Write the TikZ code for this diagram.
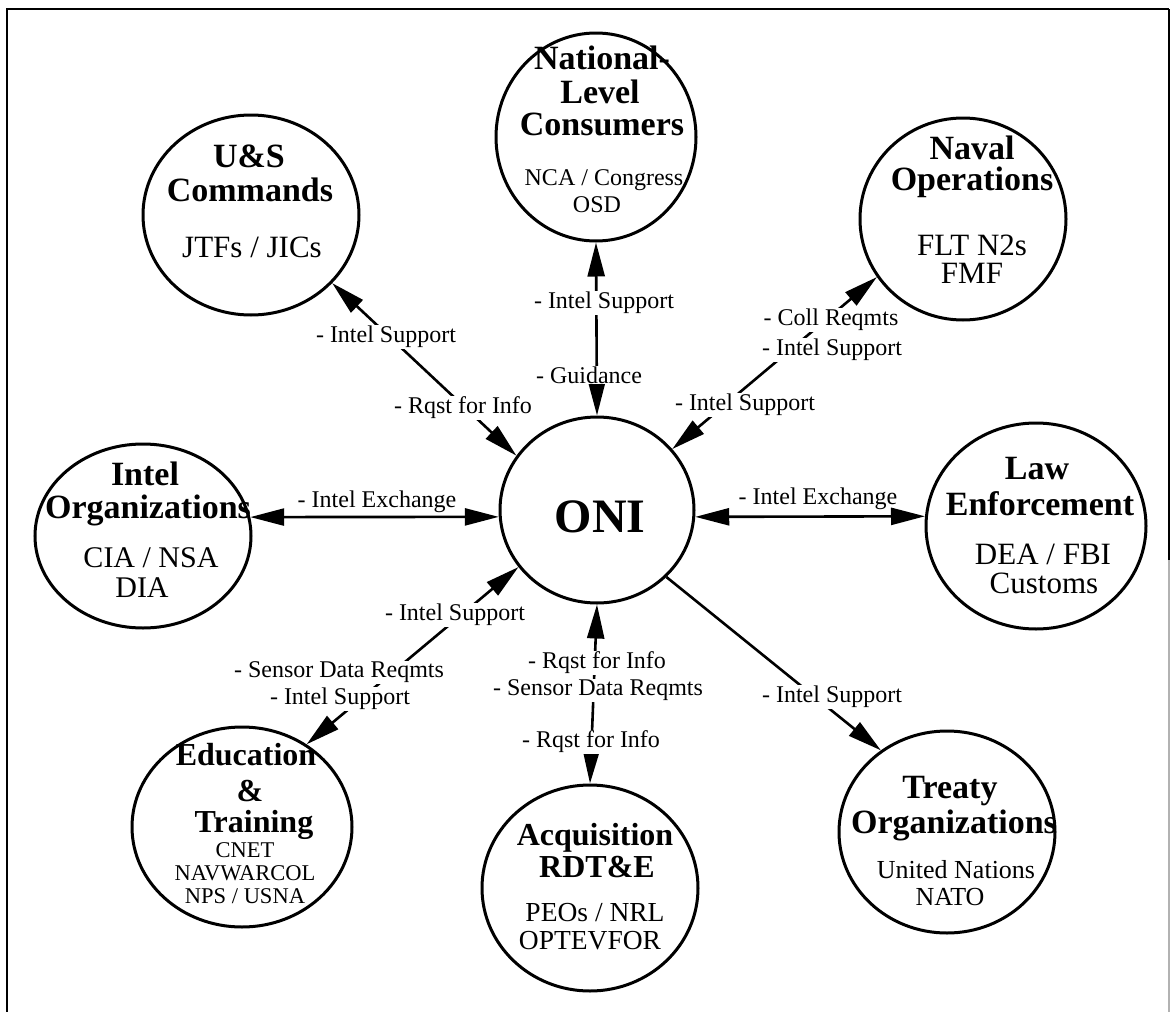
\documentclass[tikz,border=0pt]{standalone}
\usepackage{fontspec}
\setmainfont{Liberation Serif}
\usetikzlibrary{shapes.geometric,arrows.meta}
\tikzset{
  bigtri/.tip={Triangle[length=34pt,width=17pt]},
  circ/.style={ellipse,draw,line width=3pt,inner sep=0pt},
  con/.style={line width=2.6pt},
  ttl/.style={font=\fontsize{34}{36}\selectfont\bfseries,anchor=base,inner sep=0pt},
  ttls/.style={font=\fontsize{32}{34}\selectfont\bfseries,anchor=base,inner sep=0pt},
  sub/.style={font=\fontsize{#1}{#1}\selectfont,anchor=base,inner sep=0pt},
  lbl/.style={font=\fontsize{24}{26}\selectfont,fill=white,inner sep=1pt},
  lblx/.style={font=\fontsize{24}{26}\selectfont,inner sep=1pt}
}
\begin{document}
\begin{tikzpicture}[x=1pt,y=-1pt]
\useasboundingbox (0,0) rectangle (1171,1012);
% frame
\draw[line width=2.5pt] (7,1012) -- (7,9) -- (1169,9);
\draw[line width=1.5pt] (1169,9) -- (1169,560);
\draw[line width=1.2pt,gray!60] (1169,560) -- (1169,1012);
% circles
\node[circ,minimum width=216pt,minimum height=200pt] (us)  at (251,215) {};
\node[circ,minimum width=200pt,minimum height=208pt] (nat) at (596,137) {};
\node[circ,minimum width=206pt,minimum height=202pt] (nav) at (963,219) {};
\node[circ,minimum width=216pt,minimum height=184pt] (int) at (143,536) {};
\node[circ,minimum width=194pt,minimum height=186pt] (oni) at (597,510) {};
\node[circ,minimum width=220pt,minimum height=206pt] (law) at (1036,526) {};
\node[circ,minimum width=220pt,minimum height=200pt] (edu) at (242,827) {};
\node[circ,minimum width=216pt,minimum height=206pt] (acq) at (590,888) {};
\node[circ,minimum width=216pt,minimum height=202pt] (tre) at (947,832) {};
% connectors
\draw[con,bigtri-bigtri] (us.320.4) -- (oni.146);
\draw[con,bigtri-bigtri] (nat.south) -- (oni.north);
\draw[con,bigtri-bigtri] (nav.214.9) -- (oni.39.2);
\draw[con,bigtri-bigtri] (int.10) -- (oni.184);
\draw[con,bigtri-bigtri] (oni.356) -- (law.175);
\draw[con,bigtri-bigtri] (edu.52.8) -- (oni.216.3);
\draw[con,bigtri-bigtri] (oni.south) -- (acq.north);
\draw[con,-bigtri] (oni.316.6) -- (tre.129.2);
% connector labels
\node[lbl] (lnw1) at (386,337) {- Intel Support};
\node[lbl] (lnw2) at (463,408) {- Rqst for Info};
\node[lbl] (ln1) at (604,303) {- Intel Support};
\node[lbl] (ln2) at (589,375) {- Guidance};
\node[lbl] (lne1) at (831,320) {- Coll Reqmts};
\node[lbl] (lne2) at (832,350) {- Intel Support};
\node[lbl] (lne3) at (745,405) {- Intel Support};
\node[lblx] (lw) at (377,502) {- Intel Exchange};
\node[lblx] (le) at (818,499) {- Intel Exchange};
\node[lbl] (lsw1) at (455,615) {- Intel Support};
\node[lbl] (lsw2) at (339,672) {- Sensor Data Reqmts};
\node[lbl] (lsw3) at (340,699) {- Intel Support};
\node[lbl] (ls1) at (597,663) {- Rqst for Info};
\node[lbl] (ls2) at (598,690) {- Sensor Data Reqmts};
\node[lbl] (ls3) at (591,742) {- Rqst for Info};
\node[lbl] (lse) at (832,697) {- Intel Support};
% circle texts
\node[font=\fontsize{48}{50}\selectfont\bfseries,anchor=base,inner sep=0pt] (onit) at (600,532) {ONI};
\node[ttl] (us1) at (249,167) {U\&S};
\node[ttl] (us2) at (250,201) {Commands};
\node[sub=31] (us3) at (252,257) {JTFs / JICs};
\node[ttl] (nat1) at (602,69) {National-};
\node[ttl] (nat2) at (600,103) {Level};
\node[ttl] (nat3) at (602,135) {Consumers};
\node[sub=24] (nat4) at (604,185) {NCA / Congress};
\node[sub=24] (nat5) at (597,212) {OSD};
\node[ttl] (nav1) at (972,159) {Naval};
\node[ttl] (nav2) at (972,190) {Operations};
\node[sub=31] (nav3) at (972,255) {FLT N2s};
\node[sub=31] (nav4) at (972,283) {FMF};
\node[ttl] (int1) at (145,485) {Intel};
\node[ttl] (int2) at (148,518) {Organizations};
\node[sub=30] (int3) at (151,567) {CIA / NSA};
\node[sub=30] (int4) at (142,597) {DIA};
\node[ttl] (law1) at (1037,479) {Law};
\node[ttl] (law2) at (1040,515) {Enforcement};
\node[sub=31] (law3) at (1043,564) {DEA / FBI};
\node[sub=31] (law4) at (1044,593) {Customs};
\node[ttls] (edu1) at (246,765) {Education};
\node[ttls] (edu2) at (250,801) {\&};
\node[ttls] (edu3) at (254,832) {Training};
\node[sub=22.5] (edu4) at (245,857) {CNET};
\node[sub=22.5] (edu5) at (245,880) {NAVWARCOL};
\node[sub=22.5] (edu6) at (245,903) {NPS / USNA};
\node[ttls] (acq1) at (595,845) {Acquisition};
\node[ttls] (acq2) at (597,877) {RDT\&E};
\node[sub=27.5] (acq3) at (595,921) {PEOs / NRL};
\node[sub=27.5] (acq4) at (590,949) {OPTEVFOR};
\node[ttl] (tre1) at (950,798) {Treaty};
\node[ttl] (tre2) at (954,833) {Organizations};
\node[sub=26] (tre3) at (956,878) {United Nations};
\node[sub=26] (tre4) at (950,905) {NATO};
\end{tikzpicture}
\end{document}
